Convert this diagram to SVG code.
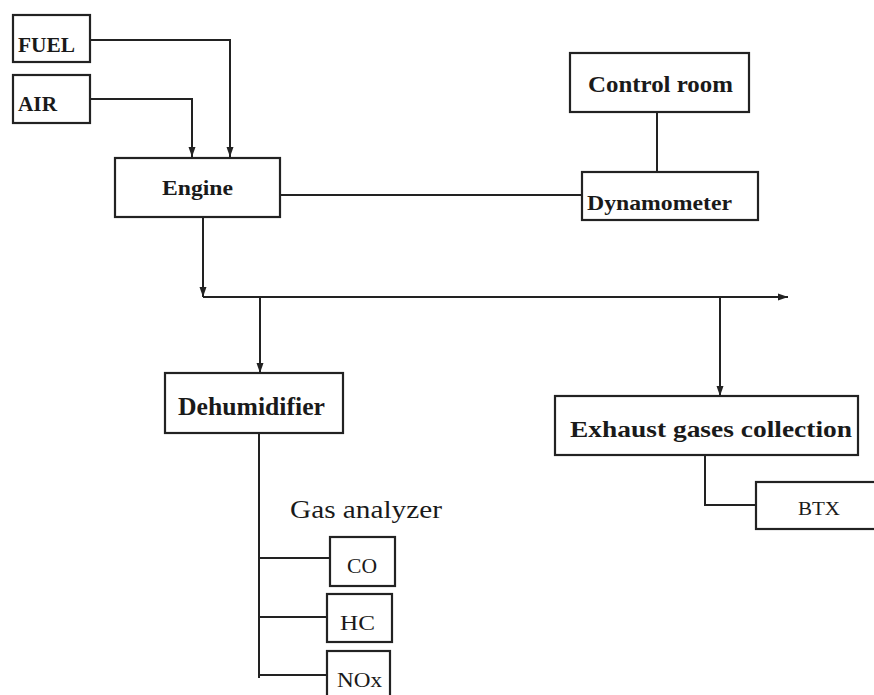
<svg xmlns="http://www.w3.org/2000/svg" width="874" height="695" viewBox="0 0 874 695">
<style>
.box{fill:#fff;stroke:#222;stroke-width:2.2}
.ln{fill:none;stroke:#222;stroke-width:2}
.t{font-family:"Liberation Serif","Times New Roman",serif;fill:#1a1a1a}
.b{font-weight:bold}
</style>
<defs>
<marker id="ar" viewBox="0 0 10 10" refX="10" refY="5" markerWidth="10" markerHeight="10" markerUnits="userSpaceOnUse" orient="auto">
<path d="M0,1.5 L10,5 L0,8.5 Z" fill="#222"/>
</marker>
</defs>
<rect width="874" height="695" fill="#fff"/>
<g id="connectors">
<path class="ln" d="M90,40 H230 V157" marker-end="url(#ar)"/>
<path class="ln" d="M90,99 H192 V157" marker-end="url(#ar)"/>
<path class="ln" d="M280,195 H582"/>
<path class="ln" d="M657,112 V172"/>
<path class="ln" d="M203,217 V297" marker-end="url(#ar)"/>
<path class="ln" d="M203,297 H788" marker-end="url(#ar)"/>
<path class="ln" d="M260,297 V373" marker-end="url(#ar)"/>
<path class="ln" d="M720,297 V396" marker-end="url(#ar)"/>
<path class="ln" d="M259,433 V678"/>
<path class="ln" d="M259,558 H330"/>
<path class="ln" d="M259,617 H327"/>
<path class="ln" d="M259,675 H327"/>
<path class="ln" d="M705,455 V505 H756"/>
</g>
<g id="fuel"><rect class="box" x="13" y="15" width="77" height="47"/><text class="t b" x="18" y="52" font-size="21" textLength="57" lengthAdjust="spacingAndGlyphs">FUEL</text></g>
<g id="air"><rect class="box" x="13" y="75" width="77" height="48"/><text class="t b" x="18" y="111" font-size="21" textLength="39" lengthAdjust="spacingAndGlyphs">AIR</text></g>
<g id="engine"><rect class="box" x="115" y="158" width="165" height="59"/><text class="t b" x="162" y="195" font-size="22" textLength="71" lengthAdjust="spacingAndGlyphs">Engine</text></g>
<g id="control-room"><rect class="box" x="570" y="53" width="179" height="59"/><text class="t b" x="588" y="92" font-size="23" textLength="145" lengthAdjust="spacingAndGlyphs">Control room</text></g>
<g id="dynamometer"><rect class="box" x="582" y="172" width="176" height="48"/><text class="t b" x="587" y="210" font-size="21" textLength="145" lengthAdjust="spacingAndGlyphs">Dynamometer</text></g>
<g id="dehumidifier"><rect class="box" x="165" y="373" width="178" height="60"/><text class="t b" x="178" y="415" font-size="25" textLength="147" lengthAdjust="spacingAndGlyphs">Dehumidifier</text></g>
<g id="exhaust"><rect class="box" x="555" y="396" width="303" height="59"/><text class="t b" x="570" y="437" font-size="23" textLength="282" lengthAdjust="spacingAndGlyphs">Exhaust gases collection</text></g>
<g id="btx"><rect class="box" x="756" y="482" width="122" height="47"/><text class="t" x="798" y="515" font-size="19" textLength="42" lengthAdjust="spacingAndGlyphs">BTX</text></g>
<g id="gas-analyzer"><text class="t" x="290" y="518" font-size="25" textLength="152" lengthAdjust="spacingAndGlyphs">Gas analyzer</text></g>
<g id="co"><rect class="box" x="330" y="537" width="65" height="49"/><text class="t" x="347" y="573" font-size="20" textLength="30" lengthAdjust="spacingAndGlyphs">CO</text></g>
<g id="hc"><rect class="box" x="327" y="594" width="65" height="48"/><text class="t" x="340" y="630" font-size="20" textLength="35" lengthAdjust="spacingAndGlyphs">HC</text></g>
<g id="nox"><rect class="box" x="327" y="651" width="63" height="50"/><text class="t" x="337" y="687" font-size="20" textLength="45" lengthAdjust="spacingAndGlyphs">NOx</text></g>
</svg>
